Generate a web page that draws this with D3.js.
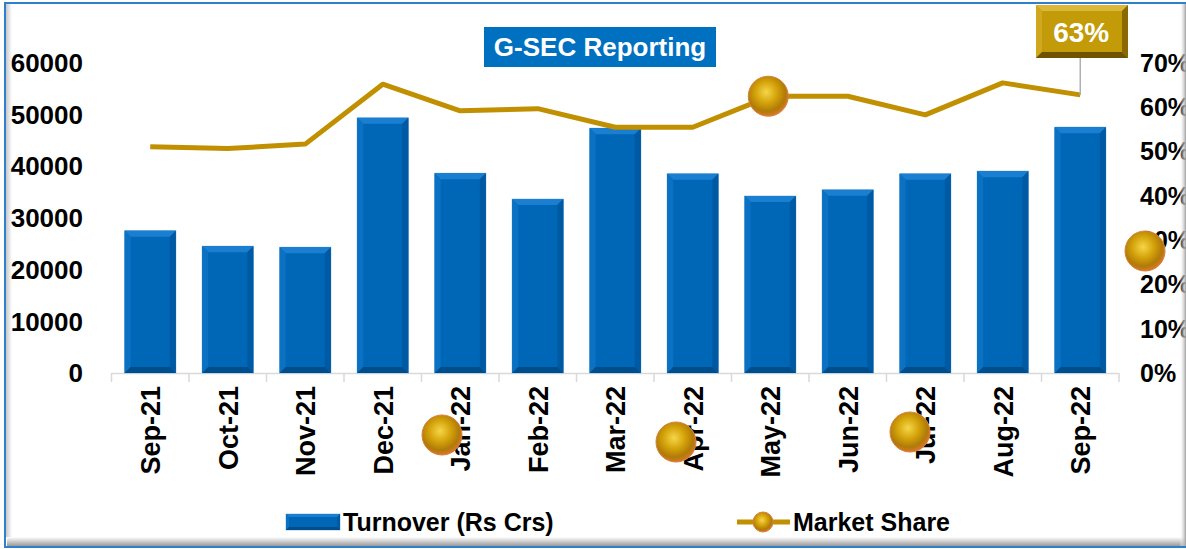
<!DOCTYPE html>
<html>
<head>
  <title>G-SEC Reporting</title>
  <meta http-equiv="content-type" content="text/html; charset=UTF-8">
  <script type="text/javascript" src="https://cdn.jsdelivr.net/npm/d3@7"></script>
</head>
<body style="margin:0;background:#fff">

<style>
  text {
    font-family: "Liberation Sans", Arial, sans-serif;
    font-weight: bold;
  }
</style>

<script type="text/javascript">
  var months = ["Sep-21", "Oct-21", "Nov-21", "Dec-21", "Jan-22", "Feb-22", "Mar-22",
    "Apr-22", "May-22", "Jun-22", "Jul-22", "Aug-22", "Sep-22"];
  var turnover = [27500, 24500, 24300, 49300, 38600, 33600, 47300,
    38500, 34200, 35400, 38500, 39000, 47500];
  var marketShare = [0.510, 0.506, 0.516, 0.651, 0.591, 0.596, 0.554,
    0.554, 0.624, 0.624, 0.582, 0.654, 0.627];
  var leftTicks = [0, 10000, 20000, 30000, 40000, 50000, 60000];
  var rightTicks = [0, 0.1, 0.2, 0.3, 0.4, 0.5, 0.6, 0.7];

  var width = 1186,
    height = 549;

  var svg = d3.select("body").append("svg")
    .attr("width", width)
    .attr("height", height);

  var defs = svg.append("defs");

  // gold sphere
  var sph = defs.append("radialGradient").attr("id", "sphere")
    .attr("cx", "45%").attr("cy", "40%").attr("r", "60%");
  sph.append("stop").attr("offset", "0%").attr("stop-color", "#f6d64a");
  sph.append("stop").attr("offset", "45%").attr("stop-color", "#d4a30a");
  sph.append("stop").attr("offset", "80%").attr("stop-color", "#b07a08");
  sph.append("stop").attr("offset", "100%").attr("stop-color", "#d9782a");

  var shB = defs.append("linearGradient").attr("id", "shadowB")
    .attr("x1", 0).attr("y1", 0).attr("x2", 0).attr("y2", 1);
  shB.append("stop").attr("offset", "0%").attr("stop-color", "#fff");
  shB.append("stop").attr("offset", "100%").attr("stop-color", "#9a9a9a");
  var shR = defs.append("linearGradient").attr("id", "shadowR")
    .attr("x1", 0).attr("y1", 0).attr("x2", 1).attr("y2", 0);
  shR.append("stop").attr("offset", "0%").attr("stop-color", "#fff").attr("stop-opacity", 0.2);
  shR.append("stop").attr("offset", "100%").attr("stop-color", "#a0a0a0");
  var shL = defs.append("linearGradient").attr("id", "shadowL")
    .attr("x1", 0).attr("y1", 0).attr("x2", 1).attr("y2", 0);
  shL.append("stop").attr("offset", "0%").attr("stop-color", "#c8c8c8");
  shL.append("stop").attr("offset", "100%").attr("stop-color", "#fff");

  // frame with soft shadow
  svg.append("rect").attr("x", 7).attr("y", 537).attr("width", 1179).attr("height", 9)
    .attr("fill", "url(#shadowB)");
  svg.append("rect").attr("x", 6).attr("y", 4).attr("width", 6).attr("height", 533)
    .attr("fill", "url(#shadowL)");
  svg.append("rect").attr("x", 5).attr("y", 3).attr("width", 1190).attr("height", 544)
    .attr("fill", "none").attr("stroke", "#2f7fcf").attr("stroke-width", 2);

  var x = d3.scaleBand().domain(months).range([111.5, 1119]).paddingInner(0.34).paddingOuter(0.17);
  var yL = d3.scaleLinear().domain([0, 60000]).range([373, 62.5]);
  var yR = d3.scaleLinear().domain([0, 0.7]).range([373, 62.5]);
  var step = x.step();

  // x axis line and ticks at category boundaries
  var axis = svg.append("g");
  axis.append("line").attr("x1", 111.5).attr("x2", 1119).attr("y1", 373.5).attr("y2", 373.5)
    .attr("stroke", "#d9d9d9").attr("stroke-width", 1.5);
  axis.selectAll(".tk").data(d3.range(months.length + 1)).enter().append("line")
    .attr("x1", function (d) { return 111.5 + d * step; })
    .attr("x2", function (d) { return 111.5 + d * step; })
    .attr("y1", 373).attr("y2", 382)
    .attr("stroke", "#d9d9d9").attr("stroke-width", 1.5);

  axis.selectAll(".xl").data(months).enter().append("text")
    .attr("transform", function (d) {
      return "translate(" + (x(d) + x.bandwidth() / 2 + 10) + ",386) rotate(-90)";
    })
    .attr("text-anchor", "end")
    .style("font-size", "27px")
    .text(function (d) { return d; });

  // left axis labels
  svg.selectAll(".yl").data(leftTicks).enter().append("text")
    .attr("x", 83).attr("y", function (d) { return yL(d); })
    .attr("dy", "0.36em").attr("text-anchor", "end")
    .style("font-size", "26px")
    .text(function (d) { return d; });

  // right axis labels
  svg.selectAll(".yr").data(rightTicks).enter().append("text")
    .attr("x", 1140).attr("y", function (d) { return yR(d); })
    .attr("dy", "0.36em")
    .style("font-size", "25px")
    .text(function (d) { return d3.format(".0%")(d); });

  // bevelled bars
  function bevelBar(g, bx, by, bw, bh, b) {
    g.append("rect").attr("x", bx - 0.5).attr("y", by - 0.5).attr("width", bw + 1).attr("height", bh + 1)
      .attr("fill", "#a9c9ea");
    g.append("rect").attr("x", bx).attr("y", by).attr("width", bw).attr("height", bh)
      .attr("fill", "#0067b6");
    var pts = function (p) { return p.map(function (q) { return q.join(","); }).join(" "); };
    g.append("polygon").attr("fill", "#1a7fd0")
      .attr("points", pts([[bx, by], [bx + bw, by], [bx + bw - b, by + b], [bx + b, by + b]]));
    g.append("polygon").attr("fill", "#0b72c3")
      .attr("points", pts([[bx, by], [bx + b, by + b], [bx + b, by + bh - b], [bx, by + bh]]));
    g.append("polygon").attr("fill", "#005aa3")
      .attr("points", pts([[bx + bw, by], [bx + bw, by + bh], [bx + bw - b, by + bh - b], [bx + bw - b, by + b]]));
    g.append("polygon").attr("fill", "#004d8c")
      .attr("points", pts([[bx, by + bh], [bx + bw, by + bh], [bx + bw - b, by + bh - b], [bx + b, by + bh - b]]));
  }

  var bars = svg.append("g");
  months.forEach(function (m, i) {
    var g = bars.append("g");
    bevelBar(g, x(m), yL(turnover[i]), x.bandwidth(), yL(0) - yL(turnover[i]), 6);
  });

  // market share line
  var line = d3.line()
    .x(function (d, i) { return x(months[i]) + x.bandwidth() / 2; })
    .y(function (d) { return yR(d); });
  svg.append("path").datum(marketShare)
    .attr("d", line)
    .attr("fill", "none")
    .attr("stroke", "#c09000")
    .attr("stroke-width", 5)
    .attr("stroke-linejoin", "round");

  function sphere(cx, cy, r) {
    svg.append("circle").attr("cx", cx).attr("cy", cy).attr("r", r)
      .attr("fill", "url(#sphere)").attr("stroke", "#d8823a").attr("stroke-width", 1);
  }

  // marker on May-22 point
  var iMay = months.indexOf("May-22");
  sphere(x("May-22") + x.bandwidth() / 2 - 2, yR(marketShare[iMay]), 20);

  // stray markers drawn by the source chart
  var strayMarkers = [[442, 435], [676, 442], [910, 432], [1145, 251]];
  strayMarkers.forEach(function (p) { sphere(p[0], p[1], 20); });

  // 63% callout on last point
  var last = months.length - 1;
  var lx = x(months[last]) + x.bandwidth() / 2, ly = yR(marketShare[last]);
  svg.append("line").attr("x1", lx).attr("x2", lx).attr("y1", 58).attr("y2", ly)
    .attr("stroke", "#b0b0b0").attr("stroke-width", 1.5);
  var cb = svg.append("g");
  bevelBox(cb, 1036, 5, 92, 53, 6);
  cb.append("text").attr("x", lx + 1).attr("y", 32).attr("dy", "0.36em")
    .attr("text-anchor", "middle").attr("fill", "#fff").style("font-size", "28px")
    .text(d3.format(".0%")(marketShare[last]));

  function bevelBox(g, bx, by, bw, bh, b) {
    var pts = function (p) { return p.map(function (q) { return q.join(","); }).join(" "); };
    g.append("rect").attr("x", bx).attr("y", by).attr("width", bw).attr("height", bh).attr("fill", "#c39a08");
    g.append("polygon").attr("fill", "#dcb83a")
      .attr("points", pts([[bx, by], [bx + bw, by], [bx + bw - b, by + b], [bx + b, by + b]]));
    g.append("polygon").attr("fill", "#d0a820")
      .attr("points", pts([[bx, by], [bx + b, by + b], [bx + b, by + bh - b], [bx, by + bh]]));
    g.append("polygon").attr("fill", "#8a6a00")
      .attr("points", pts([[bx + bw, by], [bx + bw, by + bh], [bx + bw - b, by + bh - b], [bx + bw - b, by + b]]));
    g.append("polygon").attr("fill", "#6e5400")
      .attr("points", pts([[bx, by + bh], [bx + bw, by + bh], [bx + bw - b, by + bh - b], [bx + b, by + bh - b]]));
  }

  // title
  svg.append("rect").attr("x", 484).attr("y", 27).attr("width", 232).attr("height", 40)
    .attr("fill", "#0070c0");
  svg.append("text").attr("x", 600).attr("y", 47).attr("dy", "0.36em")
    .attr("text-anchor", "middle").attr("fill", "#fff").style("font-size", "26px")
    .text("G-SEC Reporting");

  // legend
  var lg = svg.append("g");
  bevelBar(lg, 286, 514, 54, 16, 3);
  lg.append("text").attr("x", 343).attr("y", 522).attr("dy", "0.36em")
    .style("font-size", "25px").text("Turnover (Rs Crs)");
  lg.append("line").attr("x1", 737).attr("x2", 790).attr("y1", 522).attr("y2", 522)
    .attr("stroke", "#c09000").attr("stroke-width", 5);
  lg.append("circle").attr("cx", 763).attr("cy", 522).attr("r", 10)
    .attr("fill", "url(#sphere)").attr("stroke", "#d8823a");
  lg.append("text").attr("x", 793).attr("y", 522).attr("dy", "0.36em")
    .style("font-size", "25px").text("Market Share");

  // right shadow strip over the edge
  svg.append("rect").attr("x", 1180).attr("y", 4).attr("width", 6).attr("height", 542)
    .attr("fill", "url(#shadowR)");
</script>
</body>
</html>
